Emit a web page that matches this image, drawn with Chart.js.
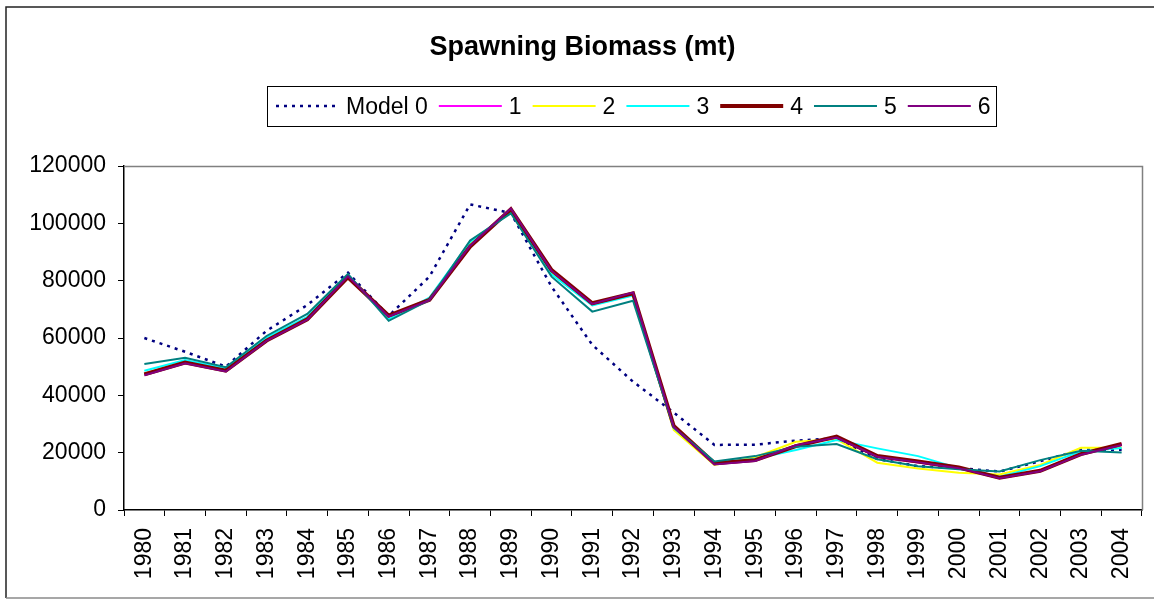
<!DOCTYPE html>
<html><head><meta charset="utf-8">
<style>html,body{margin:0;padding:0;background:#fff;}#wrap{width:1154px;height:601px;position:relative;}</style>
<script src="https://cdn.jsdelivr.net/npm/chart.js@4.4.1/dist/chart.umd.min.js"></script>
</head><body><div id="wrap"><canvas id="c" width="1154" height="601"></canvas></div>
<script>
const years = ['1980','1981','1982','1983','1984','1985','1986','1987','1988','1989','1990','1991','1992','1993','1994','1995','1996','1997','1998','1999','2000','2001','2002','2003','2004'];
const model0 = [60000,55200,50000,62500,71500,82800,67700,81400,106600,103600,77900,57600,44800,34000,22700,22800,24200,25000,17800,15300,14600,13400,17000,21000,21000];
const model1 = [47500,51500,48700,59300,66700,81400,67600,73500,92300,104800,83300,71800,75300,29000,16000,17300,22500,25400,18500,16600,14500,11300,13800,19600,23100];
const model2 = [47600,51600,48800,59500,66800,81600,67400,73700,92600,104500,82800,71600,75000,27900,15700,18400,23800,24700,16500,14500,13000,12400,15700,21700,21700];
const model3 = [48600,52300,49400,60100,67400,82000,66600,74100,93500,104000,82200,71400,74800,28600,16500,17900,20900,24400,21500,18800,14600,11600,15300,20500,21600];
const model4 = [47300,51400,48600,59100,66500,81200,67800,73300,91900,104900,83700,72100,75600,29300,16300,17400,22300,25600,18800,16900,14800,11300,13700,19500,23000];
const model5 = [50900,53100,49800,60700,68400,82300,66000,73300,94000,103500,81400,69200,73000,28800,16900,18800,22100,23000,17700,15300,14200,13400,17400,20700,20100];
const model6 = [47000,51200,48300,59000,66400,81500,67500,73200,92200,105200,83400,71900,75900,29000,15900,17100,22600,25300,18600,16700,14600,11100,13500,19300,22700];
const seriesLabels = ['Model 0','1','2','3','4','5','6'];
const yTickValues = [0,20000,40000,60000,80000,100000,120000];
const chartTitle = 'Spawning Biomass (mt)';

const FONT = "'Liberation Sans', Arial, sans-serif";
const styles = [
  {color:'#000080', width:2.5, dash:[3,5]},
  {color:'#FF00FF', width:2, dash:[]},
  {color:'#FFFF00', width:2, dash:[]},
  {color:'#00FFFF', width:2, dash:[]},
  {color:'#800000', width:4, dash:[]},
  {color:'#008080', width:2, dash:[]},
  {color:'#800080', width:2, dash:[]}
];
const seriesData = [model0,model1,model2,model3,model4,model5,model6];
const datasets = seriesData.map((d,i)=>({
  label: seriesLabels[i], data: d,
  borderColor: styles[i].color, backgroundColor: styles[i].color,
  borderWidth: styles[i].width, borderDash: styles[i].dash,
  pointRadius: 0, pointHoverRadius: 0, tension: 0, fill: false,
  order: seriesData.length - 1 - i
}));

const decor = {
  id: 'decor',
  beforeDatasetsDraw(chart) {
    const {ctx, chartArea: a} = chart;
    ctx.save();
    ctx.strokeStyle = '#808080'; ctx.lineWidth = 1.5;
    ctx.beginPath();
    ctx.moveTo(a.left, a.top + 0.5); ctx.lineTo(a.right + 0.5, a.top + 0.5); ctx.lineTo(a.right + 0.5, a.bottom);
    ctx.stroke();
    ctx.restore();
  },
  afterDraw(chart) {
    const ctx = chart.ctx;
    ctx.save();
    ctx.lineWidth = 1.5;
    ctx.strokeStyle = '#222';
    ctx.beginPath(); ctx.moveTo(6, 598); ctx.lineTo(6, 7); ctx.lineTo(1154, 7); ctx.stroke();
    ctx.strokeStyle = '#8a8a8a';
    ctx.beginPath(); ctx.moveTo(6, 598); ctx.lineTo(1154, 598); ctx.stroke();
    ctx.fillStyle = '#000';
    ctx.font = "bold 27px " + FONT;
    ctx.textAlign = 'center'; ctx.textBaseline = 'alphabetic';
    ctx.fillText(chartTitle, 582.5, 55);
    ctx.font = "23px " + FONT;
    ctx.textAlign = 'left';
    ctx.lineWidth = 1; ctx.strokeStyle = '#000';
    ctx.strokeRect(267.5, 86.5, 729, 40);
    let x = 276; const ly = 106;
    chart.data.datasets.forEach(ds => {
      ctx.save();
      ctx.strokeStyle = ds.borderColor; ctx.lineWidth = ds.borderWidth;
      ctx.setLineDash(ds.borderDash || []);
      ctx.beginPath(); ctx.moveTo(x, ly); ctx.lineTo(x + 63, ly); ctx.stroke();
      ctx.restore();
      x += 63 + 7;
      ctx.fillStyle = '#000';
      ctx.fillText(ds.label, x, 113.5);
      x += ctx.measureText(ds.label).width + 11;
    });
    ctx.restore();
  }
};

new Chart(document.getElementById('c'), {
  type: 'line',
  data: { labels: years, datasets },
  plugins: [decor],
  options: {
    responsive: false, devicePixelRatio: 1, animation: false,
    layout: { padding: { left: 0, top: 166, right: 12, bottom: 0 } },
    plugins: { legend: { display: false }, title: { display: false }, tooltip: { enabled: false } },
    scales: {
      x: {
        type: 'category', offset: true,
        grid: { display: true, drawOnChartArea: false, drawTicks: true, tickLength: 6, color: '#000', offset: true, lineWidth: 1 },
        border: { display: true, color: '#000', width: 1.5 },
        ticks: { color: '#000', font: { size: 23, family: FONT }, maxRotation: 90, minRotation: 90, padding: 12, autoSkip: false },
        afterFit: s => { s.height = 91; s.paddingLeft = 0; s.paddingRight = 0; }
      },
      y: {
        min: 0, max: 120000,
        afterBuildTicks: s => { s.ticks = yTickValues.map(v => ({ value: v })); },
        grid: { display: true, drawOnChartArea: false, drawTicks: true, tickLength: 6, color: '#000', lineWidth: 1 },
        border: { display: true, color: '#000', width: 1.5 },
        ticks: { color: '#000', font: { size: 23, family: FONT }, padding: 12, callback: v => String(v) },
        afterFit: s => { s.width = 124; s.paddingTop = 0; s.paddingBottom = 0; }
      }
    }
  }
});
</script></body></html>
